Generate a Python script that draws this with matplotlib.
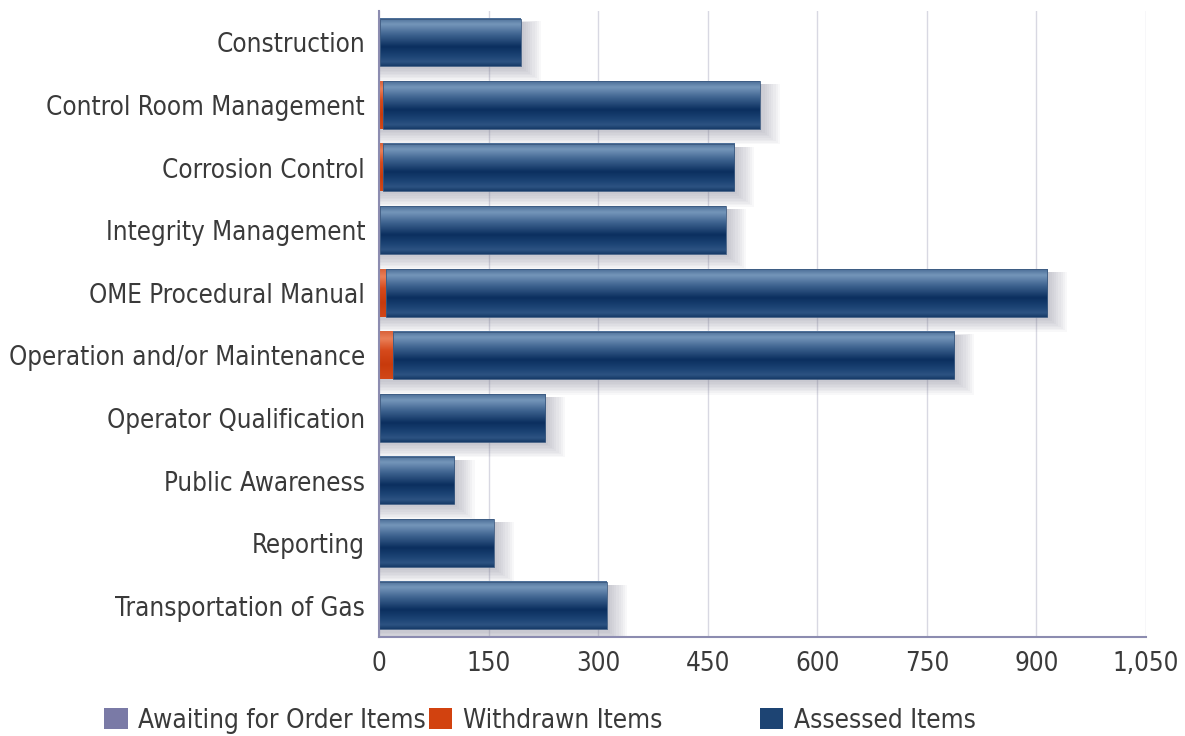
import numpy as np
import matplotlib
matplotlib.use("Agg")
import matplotlib.pyplot as plt
from matplotlib.colors import LinearSegmentedColormap
from matplotlib.patches import Patch

categories = ["Construction", "Control Room Management", "Corrosion Control",
              "Integrity Management", "OME Procedural Manual",
              "Operation and/or Maintenance", "Operator Qualification",
              "Public Awareness", "Reporting", "Transportation of Gas"]
awaiting = [0, 0, 0, 0, 0, 0, 0, 0, 0, 0]
withdrawn = [2, 6, 5, 2, 9, 19, 1, 0, 0, 0]
assessed = [192, 515, 481, 473, 905, 768, 226, 103, 157, 312]

xticks = [0, 150, 300, 450, 600, 750, 900, 1050]

plt.rcParams["font.family"] = ["DejaVu Sans"]
plt.rcParams["font.stretch"] = "condensed"

fig = plt.figure(figsize=(11.85, 7.36), dpi=100)
ax = fig.add_axes([0.3198, 0.1345, 0.6473, 0.8505])

y = np.arange(len(categories))
h = 0.76

blue_cmap = LinearSegmentedColormap.from_list("blue", [
    (0.0, "#4d6f98"), (0.12, "#7596ba"), (0.35, "#3c618e"),
    (0.6, "#0b2f5f"), (0.8, "#1c4475"), (0.92, "#2d5382"), (1.0, "#173b69")])
red_cmap = LinearSegmentedColormap.from_list("red", [
    (0.0, "#d9623a"), (0.15, "#ea8058"), (0.4, "#d64a1c"),
    (0.7, "#c83a0c"), (1.0, "#d24818")])
grey_cmap = LinearSegmentedColormap.from_list("grey", ["#9a9abf", "#6a6a98"])

grad = np.linspace(0, 1, 64).reshape(-1, 1)

left_w = np.array(awaiting)
left_a = left_w + np.array(withdrawn)
totals = left_a + np.array(assessed)

# soft blurred shadow to the right/below of each bar
for k in range(9):
    ax.barh(y + 0.05 + k * 0.012, totals + 4 + k * 3, height=h + 0.025 * k,
            color="#7a7a8c", alpha=0.05, zorder=1, linewidth=0)

bars_aw = ax.barh(y, awaiting, height=h, color="none", zorder=2)
bars_wd = ax.barh(y, withdrawn, left=left_w, height=h, color="none", zorder=2)
bars_as = ax.barh(y, assessed, left=left_a, height=h, color="none",
                  edgecolor="#3c5a80", linewidth=0.6, zorder=4)

for bars, cmap in [(bars_aw, grey_cmap), (bars_wd, red_cmap), (bars_as, blue_cmap)]:
    for b in bars:
        x0, y0 = b.get_x(), b.get_y()
        w, hh = b.get_width(), b.get_height()
        if w <= 0:
            continue
        ax.imshow(grad, cmap=cmap, aspect="auto", interpolation="bicubic",
                  extent=[x0, x0 + w, y0 + hh, y0], zorder=3)

ax.set_xlim(0, 1050)
ax.set_ylim(len(categories) - 0.5, -0.5)
ax.set_xticks(xticks)
ax.set_xticklabels([f"{v:,}" for v in xticks])
ax.set_yticks(y)
ax.set_yticklabels(categories)
ax.tick_params(axis="both", length=0, labelsize=18.6, colors="#3a3a3a")
ax.tick_params(axis="y", pad=10)
ax.tick_params(axis="x", pad=10)

ax.grid(axis="x", color="#d8d8e2", linewidth=1)
ax.set_axisbelow(True)
for s in ["top", "right"]:
    ax.spines[s].set_visible(False)
for s in ["left", "bottom"]:
    ax.spines[s].set_color("#8c8cb0")
    ax.spines[s].set_linewidth(1.5)
    ax.spines[s].set_zorder(5)

handles = [Patch(facecolor="#7a7aa6", label="Awaiting for Order Items"),
           Patch(facecolor="#d2420f", label="Withdrawn Items"),
           Patch(facecolor="#1d4473", label="Assessed Items")]
leg_kw = dict(frameon=False, fontsize=18.8, handlelength=0.9, handleheight=0.9,
              handletextpad=0.4, columnspacing=0.1, labelcolor="#3a3a3a",
              borderaxespad=0, borderpad=0)
fig.legend(handles=handles[:2], ncol=2, loc="center left",
           bbox_to_anchor=(0.088, 0.021), **leg_kw)
fig.legend(handles=handles[2:], ncol=1, loc="center left",
           bbox_to_anchor=(0.641, 0.021), **leg_kw)

fig.savefig("out.png", dpi=100)
